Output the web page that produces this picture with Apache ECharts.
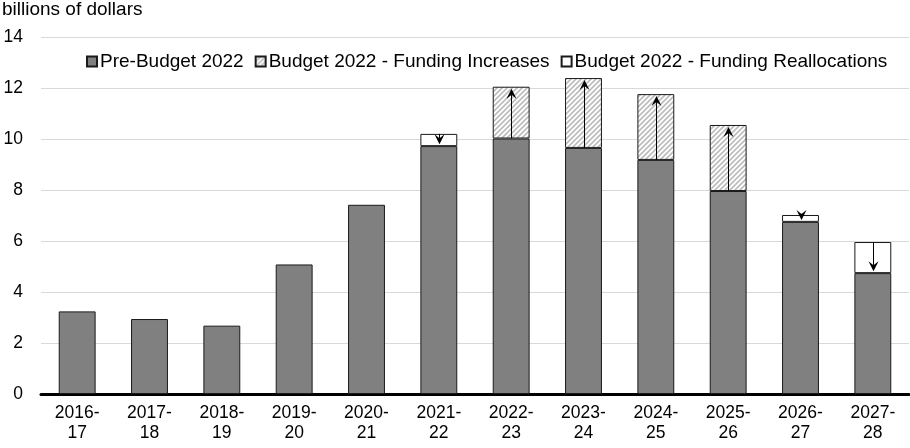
<!DOCTYPE html>
<html>
<head>
<meta charset="utf-8">
<script src="https://cdn.jsdelivr.net/npm/echarts@6/dist/echarts.min.js"></script>
<style>html,body{margin:0;padding:0;background:#fff}#c{width:910px;height:448px}</style>
</head>
<body>
<div id="c"></div>
<script>
const categories = ['2016-17','2017-18','2018-19','2019-20','2020-21','2021-22','2022-23','2023-24','2024-25','2025-26','2026-27','2027-28'];
const preBudget = [3.24, 2.94, 2.68, 5.08, 7.42, 9.72, 10.02, 9.65, 9.18, 7.96, 6.75, 4.74];
const fundingIncreases = [0, 0, 0, 0, 0, 0, 2.03, 2.74, 2.58, 2.59, 0, 0];
const fundingReallocations = [0, 0, 0, 0, 0, 0.48, 0, 0, 0, 0, 0.27, 1.22];
const yTicks = [0, 2, 4, 6, 8, 10, 12, 14];
const seriesNames = ['Pre-Budget 2022', 'Budget 2022 - Funding Increases', 'Budget 2022 - Funding Reallocations'];

const FONT = 'Liberation Sans, Arial, sans-serif';

// hatch pattern
const pat = document.createElement('canvas');
pat.width = 5; pat.height = 5;
const g = pat.getContext('2d');
g.fillStyle = '#fff'; g.fillRect(0,0,5,5);
g.strokeStyle = '#bdbdbd'; g.lineWidth = 1.7;
g.beginPath();
g.moveTo(-1,6); g.lineTo(6,-1);
g.moveTo(-1,1); g.lineTo(1,-1);
g.moveTo(4,6); g.lineTo(6,4);
g.stroke();

// arrows derived from data
const arrows = [];
categories.forEach((c, i) => {
  if (fundingIncreases[i] > 0) arrows.push([i, preBudget[i], preBudget[i] + fundingIncreases[i], 1]);
  if (fundingReallocations[i] > 0) arrows.push([i, preBudget[i] + fundingReallocations[i], preBudget[i], -1]);
});

const chart = echarts.init(document.getElementById('c'), null, {renderer: 'canvas'});
chart.setOption({
  animation: false,
  title: {text: 'billions of dollars', left: 2, top: 0, padding: 0,
    textStyle: {fontFamily: FONT, fontSize: 19, fontWeight: 'normal', color: '#000', lineHeight: 20}},
  legend: {
    left: 86, top: 52, padding: 0, itemWidth: 10, itemHeight: 10, itemGap: 11, icon: 'rect',
    data: seriesNames,
    textStyle: {fontFamily: FONT, fontSize: 19, color: '#000', padding: [0,0,0,-2]}
  },
  grid: {left: 41, right: 1, top: 37, bottom: 54},
  xAxis: {
    type: 'category', data: categories,
    axisLine: {lineStyle: {color: '#000', width: 3}},
    axisTick: {show: false},
    axisLabel: {interval: 0, fontFamily: FONT, fontSize: 17.5, color: '#000', lineHeight: 20, margin: 9,
      formatter: v => v.replace('-', '-\n')}
  },
  yAxis: {
    type: 'value', min: yTicks[0], max: yTicks[yTicks.length-1], interval: 2,
    axisLine: {show: false}, axisTick: {show: false},
    axisLabel: {fontFamily: FONT, fontSize: 17.5, color: '#000', margin: 18},
    splitLine: {lineStyle: {color: '#d9d9d9', width: 1}}
  },
  series: [
    {name: seriesNames[0], type: 'bar', stack: 't', barWidth: '51%', data: preBudget,
      itemStyle: {color: '#808080', borderColor: '#1a1a1a', borderWidth: 1}},
    {name: seriesNames[1], type: 'bar', stack: 't', data: fundingIncreases.map(v => v || null),
      itemStyle: {color: {image: pat, repeat: 'repeat'}, borderColor: '#1a1a1a', borderWidth: 1}},
    {name: seriesNames[2], type: 'bar', stack: 't', data: fundingReallocations.map(v => v || null),
      itemStyle: {color: '#fff', borderColor: '#1a1a1a', borderWidth: 1}},
    {type: 'custom', z: 10, data: arrows, silent: true,
      renderItem: function (params, api) {
        const x = api.value(0), from = api.value(1), to = api.value(2), dir = api.value(3);
        const p1 = api.coord([x, from]);
        const p2 = api.coord([x, to]);
        const tipY = p2[1] + dir * 2; // tip slightly inside the box
        const head = 10, notch = 6, hw = 5;
        const cx = Math.round(p1[0]) + 0.5;
        const back = tipY + dir * head;
        const nY = tipY + dir * notch;
        return {type: 'group', children: [
          {type: 'line', shape: {x1: cx, y1: p1[1], x2: cx, y2: nY}, style: {stroke: '#000', lineWidth: 1}},
          {type: 'polygon', shape: {points: [[cx, tipY], [cx - hw, back], [cx, nY], [cx + hw, back]]}, style: {fill: '#000'}}
        ]};
      }}
  ]
});
</script>
</body>
</html>
